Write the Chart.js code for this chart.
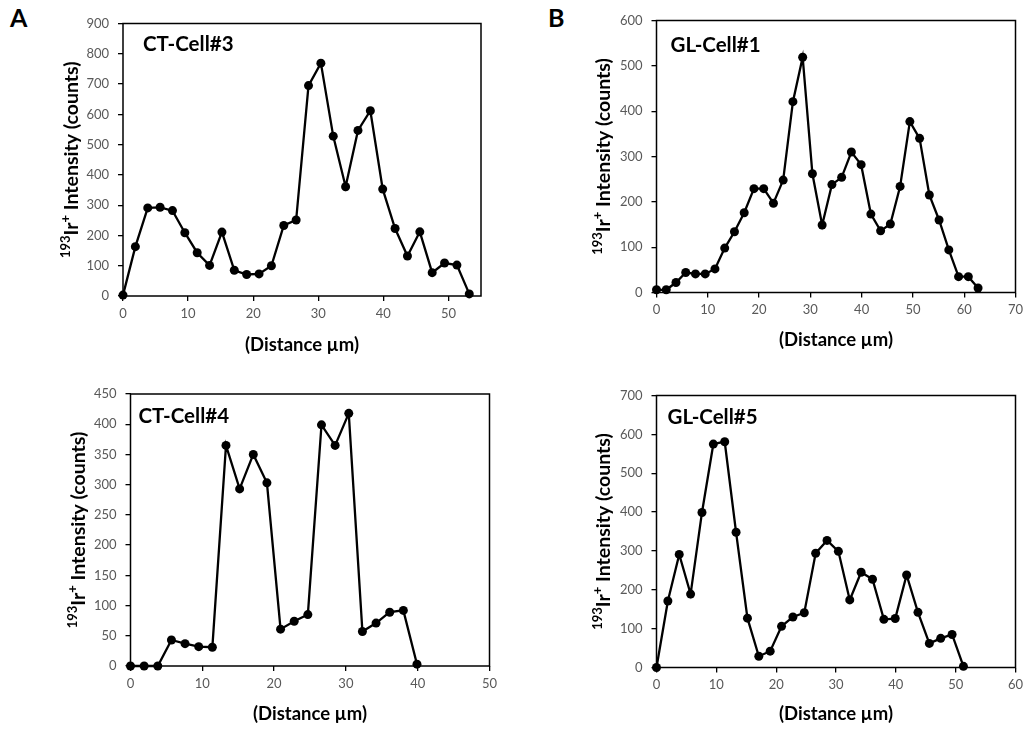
<!DOCTYPE html>
<html lang="en">
<head>
  <meta charset="UTF-8" />
  <title>193Ir+ intensity line profiles</title>
  <script src="https://cdn.jsdelivr.net/npm/chart.js@4.4.0/dist/chart.umd.min.js"></script>
  <style>
    body {
      margin: 0;
      background: #ffffff;
      width: 1027px;
      height: 729px;
      position: relative;
      overflow: hidden;
      font-family: Lato, 'Liberation Sans', sans-serif;
    }
    .letter {
      position: absolute;
      font: bold 25px Lato, 'Liberation Sans', sans-serif;
      line-height: 25px;
      color: #000;
    }
    canvas {
      position: absolute;
    }
  </style>
</head>
<body>
  <div class="letter" style="left:10px;top:5px">A</div>
  <div class="letter" style="left:548px;top:5px">B</div>

  <canvas id="ct3"></canvas>
  <canvas id="gl1"></canvas>
  <canvas id="ct4"></canvas>
  <canvas id="gl5"></canvas>

  <script>
    // distances (µm) and 193Ir+ counts
    const ct3Distance = [0, 1.9, 3.8, 5.7, 7.6, 9.5, 11.4, 13.3, 15.2, 17.1, 19.0, 20.9, 22.8, 24.7, 26.6, 28.5, 30.4, 32.3, 34.2, 36.1, 38.0, 39.9, 41.8, 43.7, 45.6, 47.5, 49.4, 51.3, 53.2];
    const ct3Counts = [3, 163, 291, 293, 282, 209, 143, 101, 211, 85, 71, 73, 100, 233, 251, 695, 769, 528, 361, 547, 612, 353, 223, 132, 212, 77, 109, 102, 7];

    const gl1Distance = [0, 1.9, 3.8, 5.7, 7.6, 9.5, 11.4, 13.3, 15.2, 17.1, 19.0, 20.9, 22.8, 24.7, 26.6, 28.5, 30.4, 32.3, 34.2, 36.1, 38.0, 39.9, 41.8, 43.7, 45.6, 47.5, 49.4, 51.3, 53.2, 55.1, 57.0, 58.9, 60.8, 62.7];
    const gl1Counts = [6, 6, 22, 44, 41, 41, 52, 98, 134, 176, 229, 229, 197, 248, 421, 519, 262, 149, 238, 254, 310, 282, 173, 136, 151, 234, 377, 340, 215, 160, 94, 35, 35, 10];

    const ct4Distance = [0, 1.9, 3.8, 5.7, 7.6, 9.5, 11.4, 13.3, 15.2, 17.1, 19.0, 20.9, 22.8, 24.7, 26.6, 28.5, 30.4, 32.3, 34.2, 36.1, 38.0, 39.9];
    const ct4Counts = [0, 0, 0, 43, 37, 32, 31, 365, 293, 350, 303, 61, 74, 85, 399, 365, 418, 57, 71, 89, 92, 3];

    const gl5Distance = [0, 1.9, 3.8, 5.7, 7.6, 9.5, 11.4, 13.3, 15.2, 17.1, 19.0, 20.9, 22.8, 24.7, 26.6, 28.5, 30.4, 32.3, 34.2, 36.1, 38.0, 39.9, 41.8, 43.7, 45.6, 47.5, 49.4, 51.3];
    const gl5Counts = [0, 171, 291, 189, 399, 575, 581, 348, 127, 29, 42, 106, 130, 141, 294, 327, 299, 174, 245, 227, 124, 126, 238, 142, 62, 75, 85, 3];

    // y title pieces: [text, superscript?]
    const yTitleParts = [['193', true], ['Ir', false], ['+', true], [' Intensity (counts)', false]];
    const xTitle = '(Distance µm)';

    const FONT = "Lato, 'Liberation Sans', sans-serif";
    Chart.defaults.font.family = FONT;

    const X_TITLE_SIZE = 18.5;
    const X_TITLE_LH = X_TITLE_SIZE * 1.2;

    // frame, cell name and y title with real superscripts
    const framePlugin = {
      id: 'frame',
      beforeDatasetsDraw(chart) {
        const { ctx, chartArea: a } = chart;
        ctx.save();
        ctx.strokeStyle = '#000';
        ctx.lineWidth = 1.5;
        ctx.strokeRect(a.left, a.top, a.right - a.left, a.bottom - a.top);
        ctx.restore();
      },
      afterDraw(chart, args, opts) {
        const { ctx, chartArea: a } = chart;
        ctx.save();
        ctx.fillStyle = '#000';
        ctx.font = 'bold 20.5px ' + FONT;
        ctx.textBaseline = 'alphabetic';
        ctx.fillText(opts.name, a.left + opts.dx, a.top + opts.dy);

        // rotated axis title
        const mainFont = 'bold 19.5px ' + FONT;
        const supFont = 'bold 13px ' + FONT;
        let total = 0;
        const widths = yTitleParts.map(([t, sup]) => {
          ctx.font = sup ? supFont : mainFont;
          const w = ctx.measureText(t).width;
          total += w;
          return w;
        });
        ctx.translate(opts.yTitleX, (a.top + a.bottom) / 2);
        ctx.rotate(-Math.PI / 2);
        ctx.textBaseline = 'middle';
        let x = -total / 2;
        yTitleParts.forEach(([t, sup], i) => {
          ctx.font = sup ? supFont : mainFont;
          ctx.fillText(t, x, sup ? -6 : 0);
          x += widths[i];
        });
        ctx.restore();
      }
    };

    function makeChart(cfg) {
      const p = cfg.plot;
      const boxLeft = Math.round(cfg.yTitleX - 16);
      const boxTop = Math.round(p.t - 18);
      const boxRight = Math.round(p.r + 18);
      const boxBottom = Math.round(cfg.xTitleY + 15);

      const canvas = document.getElementById(cfg.id);
      canvas.width = boxRight - boxLeft;
      canvas.height = boxBottom - boxTop;
      canvas.style.left = boxLeft + 'px';
      canvas.style.top = boxTop + 'px';

      const tickFont = { size: 13 };

      return new Chart(canvas.getContext('2d'), {
        type: 'line',
        data: {
          datasets: [{
            data: cfg.xs.map((x, i) => ({ x: x, y: cfg.ys[i] })),
            borderColor: '#000',
            backgroundColor: '#000',
            borderWidth: 2.3,
            pointRadius: 4.5,
            pointBackgroundColor: '#000',
            pointBorderWidth: 0,
            tension: 0,
            clip: false
          }]
        },
        options: {
          responsive: false,
          animation: false,
          layout: {
            padding: { left: 0, top: p.t - boxTop, right: boxRight - p.r, bottom: 0 }
          },
          plugins: {
            legend: { display: false },
            tooltip: { enabled: false },
            frame: { name: cfg.name, dx: cfg.nameDx, dy: cfg.nameDy, yTitleX: cfg.yTitleX - boxLeft }
          },
          scales: {
            x: {
              type: 'linear',
              min: 0,
              max: cfg.xMax,
              border: { display: false },
              grid: { drawOnChartArea: false, drawTicks: true, tickLength: 5, color: '#000', lineWidth: 1.3 },
              ticks: { stepSize: 10, includeBounds: false, color: '#595959', font: tickFont, padding: 5, maxRotation: 0 },
              title: {
                display: true,
                text: xTitle,
                color: '#000',
                font: { size: X_TITLE_SIZE, weight: 'bold', lineHeight: 1.2 },
                padding: { top: 0, bottom: boxBottom - cfg.xTitleY - X_TITLE_LH / 2 }
              },
              afterFit(scale) { scale.height = boxBottom - p.b; }
            },
            y: {
              min: 0,
              max: cfg.yMax,
              border: { display: false },
              grid: { drawOnChartArea: false, drawTicks: true, tickLength: 5, color: '#000', lineWidth: 1.3 },
              ticks: { stepSize: cfg.yStep, color: '#595959', font: tickFont, padding: 9 },
              title: { display: false },
              afterFit(scale) { scale.width = p.l - boxLeft; }
            }
          }
        },
        plugins: [framePlugin]
      });
    }

    makeChart({
      id: 'ct3', name: 'CT-Cell#3', xs: ct3Distance, ys: ct3Counts,
      xMax: 55, yMax: 900, yStep: 100,
      plot: { l: 123, t: 23.5, r: 481, b: 296 },
      yTitleX: 72, xTitleY: 345, nameDx: 20, nameDy: 27
    });

    makeChart({
      id: 'gl1', name: 'GL-Cell#1', xs: gl1Distance, ys: gl1Counts,
      xMax: 70, yMax: 600, yStep: 100,
      plot: { l: 656.5, t: 20.5, r: 1015.5, b: 292.5 },
      yTitleX: 604, xTitleY: 340, nameDx: 14, nameDy: 31
    });

    makeChart({
      id: 'ct4', name: 'CT-Cell#4', xs: ct4Distance, ys: ct4Counts,
      xMax: 50, yMax: 450, yStep: 50,
      plot: { l: 130.5, t: 394, r: 489.5, b: 666 },
      yTitleX: 79, xTitleY: 714, nameDx: 8, nameDy: 29
    });

    makeChart({
      id: 'gl5', name: 'GL-Cell#5', xs: gl5Distance, ys: gl5Counts,
      xMax: 60, yMax: 700, yStep: 100,
      plot: { l: 656.5, t: 395.5, r: 1015.5, b: 667.5 },
      yTitleX: 604, xTitleY: 714, nameDx: 11, nameDy: 28
    });
  </script>
</body>
</html>
